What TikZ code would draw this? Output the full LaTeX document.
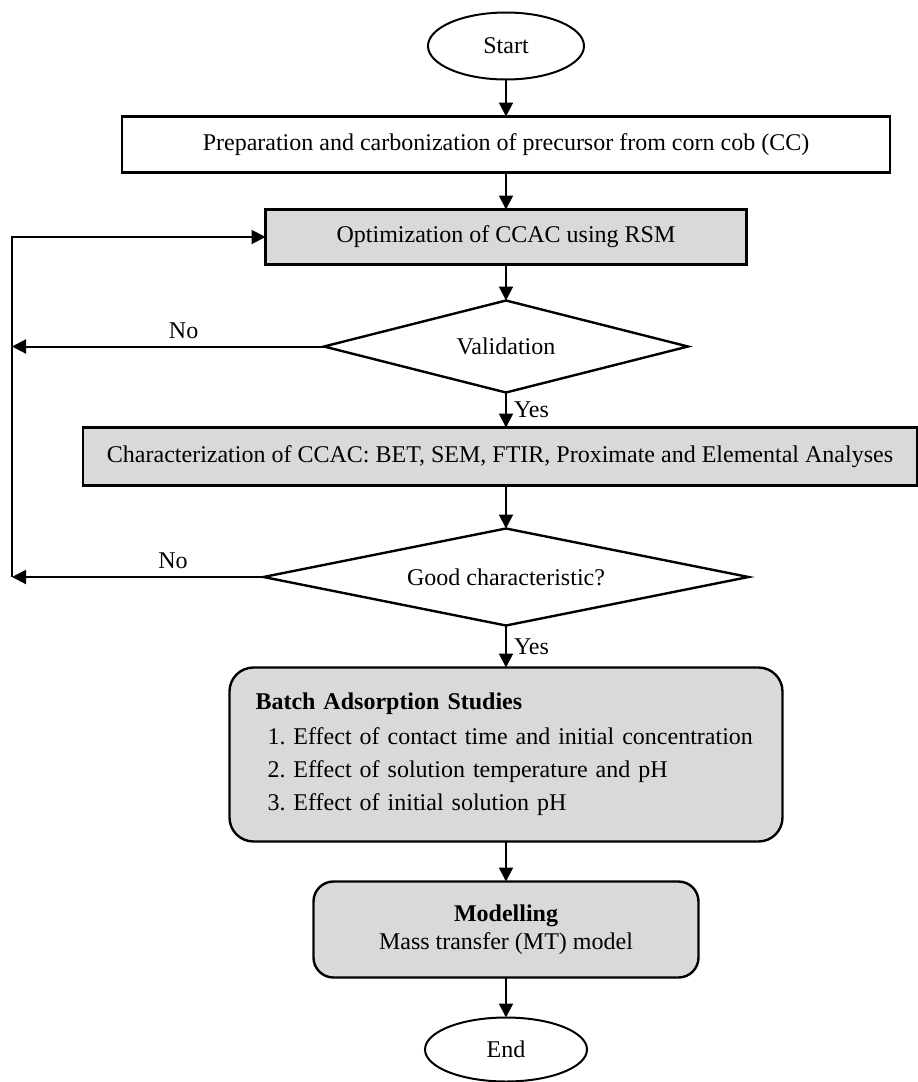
\documentclass[12pt,tikz,border=0pt]{standalone}
\usepackage{fontspec}
\setmainfont{Liberation Serif}
\usepackage{tikz}
\usetikzlibrary{arrows.meta,positioning,shapes.geometric,calc}
\definecolor{caixacinza}{RGB}{217,217,217}

\begin{document}
\frenchspacing
\begin{tikzpicture}[
        font=\fontsize{12}{14}\selectfont,
        every node/.append style={outer sep=0pt},
        term/.style={draw, ellipse, line width=1pt, minimum width=78pt, minimum height=33.5pt, inner sep=0pt},
        box/.style={draw, rectangle, line width=1.2pt, align=center, minimum height=28pt, inner sep=0pt},
        graybox/.style={box, fill=caixacinza},
        decision/.style={draw, diamond, line width=1.2pt, inner sep=0pt},
        arr/.style={-{Triangle[length=7pt,width=7pt]}, line width=1pt}
    ]

        \useasboundingbox (0,0) rectangle (458.5pt,-541pt);

        \node[term] (start) at (253pt,-23pt) {Start};
        \node[box, minimum width=384pt, below=18.5pt of start] (prep) {Preparation and carbonization of precursor from corn cob (CC)};
        \node[graybox, minimum width=240.5pt, minimum height=27.5pt, below=18.5pt of prep] (opt) {Optimization of CCAC using RSM};
        \node[decision, aspect=4, minimum width=182pt, minimum height=46pt, below=18pt of opt] (valid) {Validation};
        \node[graybox, minimum width=417pt, minimum height=29pt, below=17.5pt of valid, xshift=-3pt] (charac) {Characterization of CCAC: BET, SEM, FTIR, Proximate and Elemental Analyses};
        \node[decision, aspect=5, minimum width=242.5pt, minimum height=48.5pt, below=21.5pt of charac, xshift=3pt] (good) {Good characteristic?};
        \node[graybox, rounded corners=12pt, text width=250.5pt, inner xsep=13pt, minimum height=87pt, align=left, font=\fontsize{12}{16.5}\selectfont, below=21pt of good] (batch) {\textbf{Batch Adsorption Studies}\\[1pt]
            \mbox{\hspace*{6pt}1. Effect of contact time and initial concentration}\\
            \mbox{\hspace*{6pt}2. Effect of solution temperature and pH}\\
            \mbox{\hspace*{6pt}3. Effect of initial solution pH}};
        \node[graybox, rounded corners=10pt, minimum width=192.5pt, minimum height=48pt, font=\fontsize{12}{13.8}\selectfont, below=20pt of batch] (model) {\textbf{Modelling}\\Mass transfer (MT) model};
        \node[term, minimum width=81pt, minimum height=32pt, below=20pt of model] (end) {End};

        \coordinate (loopx) at (6pt,0);

        \draw[arr] (start) -- (prep);
        \draw[arr] (prep) -- (opt);
        \draw[arr] (opt) -- (valid);
        \draw[arr] (valid.south) -- node[right]{Yes} (valid.south |- charac.north);
        \draw[arr] (charac.south -| good.north) -- (good);
        \draw[arr] (good) -- node[right]{Yes} (batch);
        \draw[arr] (batch) -- (model);
        \draw[arr] (model) -- (end);

        % back to optimization
        \draw[arr] (valid.west) -- node[above, pos=0.45]{No} (valid.west -| loopx);
        \draw[arr] (good.west) -- node[above, pos=0.36]{No} (good.west -| loopx);
        \draw[arr] (good.west -| loopx) |- (opt.west);

    \end{tikzpicture}
\end{document}
